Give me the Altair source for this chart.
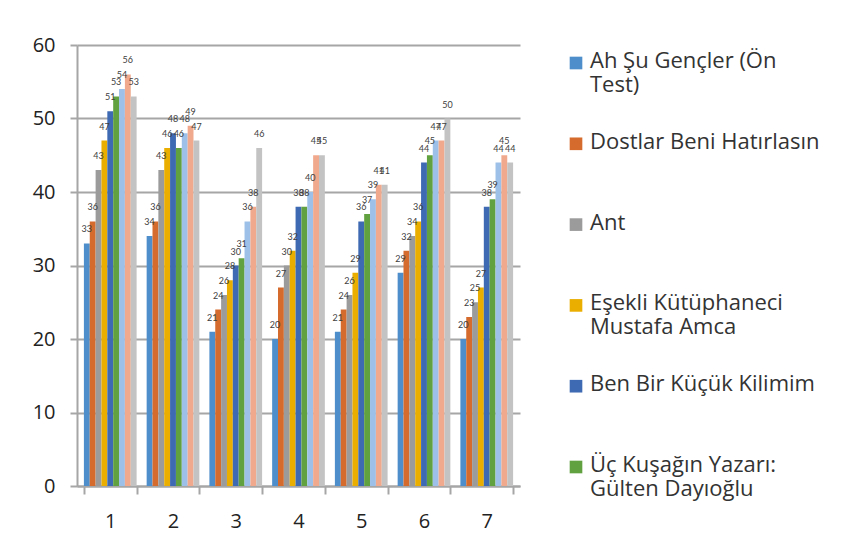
import altair as alt
import pandas as pd

groups = ["1", "2", "3", "4", "5", "6", "7"]
series = [
    "Ah Şu Gençler (Ön Test)",
    "Dostlar Beni Hatırlasın",
    "Ant",
    "Eşekli Kütüphaneci Mustafa Amca",
    "Ben Bir Küçük Kilimim",
    "Üç Kuşağın Yazarı: Gülten Dayıoğlu",
    "Seri 7",
    "Seri 8",
    "Seri 9",
]
legend_labels = [
    "Ah Şu Gençler (Ön\nTest)",
    "Dostlar Beni Hatırlasın",
    "Ant",
    "Eşekli Kütüphaneci\nMustafa Amca",
    "Ben Bir Küçük Kilimim",
    "Üç Kuşağın Yazarı:\nGülten Dayıoğlu",
]
colors = ["#4E8FCB", "#D56B2C", "#9B9B9B", "#E9AE00", "#3E69B3",
          "#62A13F", "#9DC0E8", "#F0A98C", "#C3C3C3"]

s1 = [33, 34, 21, 20, 21, 29, 20]
s2 = [36, 36, 24, 27, 24, 32, 23]
s3 = [43, 43, 26, 30, 26, 34, 25]
s4 = [47, 46, 28, 32, 29, 36, 27]
s5 = [51, 48, 30, 38, 36, 44, 38]
s6 = [53, 46, 31, 38, 37, 45, 39]
s7 = [54, 48, 36, 40, 39, 47, 44]
s8 = [56, 49, 38, 45, 41, 47, 45]
s9 = [53, 47, 46, 45, 41, 50, 44]
all_values = [s1, s2, s3, s4, s5, s6, s7, s8, s9]

rows = []
for si, name in enumerate(series):
    for gi, g in enumerate(groups):
        rows.append({"group": g, "series": name, "value": all_values[si][gi]})
df = pd.DataFrame(rows)

FONT = "Open Sans"
GRID = "#A6A6A6"

color_scale = alt.Scale(domain=series, range=colors)

base = alt.Chart(df).encode(
    x=alt.X("group:O", sort=groups,
            scale=alt.Scale(paddingInner=0.16, paddingOuter=0.11),
            axis=alt.Axis(title=None, labelAngle=0, tickBand="extent",
                          tickSize=8, tickColor=GRID, tickWidth=2,
                          domainColor=GRID, domainWidth=2,
                          labelFont=FONT, labelFontSize=20, labelColor="#222222",
                          labelPadding=17)),
    xOffset=alt.XOffset("series:N", sort=series, scale=alt.Scale(paddingInner=0)),
    y=alt.Y("value:Q", scale=alt.Scale(domain=[0, 60], nice=False),
            axis=alt.Axis(title=None, values=[0, 10, 20, 30, 40, 50, 60],
                          grid=True, gridColor=GRID, gridWidth=2,
                          tickSize=7, tickColor=GRID, tickWidth=2,
                          domainColor=GRID, domainWidth=2,
                          labelFont=FONT, labelFontSize=20, labelColor="#222222",
                          labelPadding=15)),
)

bars = base.mark_bar().encode(
    color=alt.Color("series:N", scale=color_scale, legend=None)
)
labels = base.mark_text(baseline="bottom", dy=-9, fontSize=9, font="Lato",
                        color="#404040").encode(text="value:Q")

main = (bars + labels).properties(width=443, height=441)

leg_df = pd.DataFrame({"idx": list(range(6)), "label": legend_labels,
                       "series": series[:6]})
leg_base = alt.Chart(leg_df).encode(
    y=alt.Y("idx:O", axis=None, scale=alt.Scale(type="point", padding=0))
)
sym = leg_base.mark_square(size=160, x=16, yOffset=18, opacity=1).encode(
    color=alt.Color("series:N", scale=color_scale, legend=None)
)
txt = leg_base.mark_text(align="left", baseline="top", lineBreak="\n",
                         fontSize=22, font=FONT, color="#333333",
                         lineHeight=24, x=30, yOffset=6).encode(text="label:N")
legend = (sym + txt).properties(width=260, height=404)

chart = alt.hconcat(main, legend, spacing=40).properties(
    padding={"left": 24, "top": 27, "right": 5, "bottom": 5}
).configure_view(stroke=None)

chart.save("out.html", embed_options={"renderer": "svg", "actions": False})
